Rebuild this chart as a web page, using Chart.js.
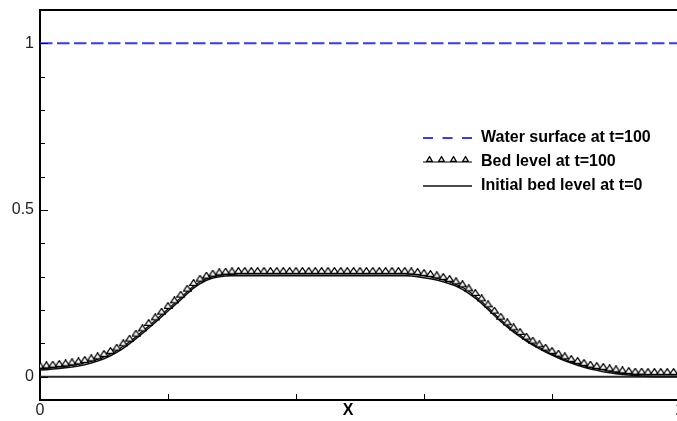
<!DOCTYPE html>
<html>
<head>
<meta charset="utf-8">
<script src="https://cdn.jsdelivr.net/npm/chart.js@4.4.1/dist/chart.umd.min.js"></script>
<style>
  html, body { margin:0; padding:0; background:#fff; overflow:hidden; }
  #wrap { width:720px; height:421px; }
</style>
</head>
<body>
<div id="wrap"><canvas id="bedChart"></canvas></div>
<script>
/* Bed profile over the hump: water surface, bed at t=100 and initial bed */
const xs = [
  0.00,0.02,0.04,0.06,0.08,0.10,0.12,0.14,0.16,0.18,
  0.20,0.22,0.24,0.26,0.28,0.30,0.32,0.34,0.36,0.38,
  0.40,0.42,0.44,0.46,0.48,0.50,0.52,0.54,0.56,0.58,
  0.60,0.62,0.64,0.66,0.68,0.70,0.72,0.74,0.76,0.78,
  0.80,0.82,0.84,0.86,0.88,0.90,0.92,0.94,0.96,0.98,
  1.00,1.02,1.04,1.06,1.08,1.10,1.12,1.14,1.16,1.18,
  1.20,1.22,1.24,1.26,1.28,1.30,1.32,1.34,1.36,1.38,
  1.40,1.42,1.44,1.46,1.48,1.50,1.52,1.54,1.56,1.58,
  1.60,1.62,1.64,1.66,1.68,1.70,1.72,1.74,1.76,1.78,
  1.80,1.82,1.84,1.86,1.88,1.90,1.92,1.94,1.96,1.98,
  2.00
];
const bedT100 = [
  0.024,0.025,0.027,0.029,0.031,0.034,0.037,0.041,0.046,0.052,
  0.059,0.068,0.078,0.091,0.105,0.120,0.136,0.152,0.169,0.186,
  0.203,0.220,0.237,0.255,0.272,0.285,0.294,0.300,0.304,0.306,
  0.307,0.308,0.308,0.308,0.308,0.308,0.308,0.308,0.308,0.308,
  0.308,0.308,0.308,0.308,0.308,0.308,0.308,0.308,0.308,0.308,
  0.308,0.308,0.308,0.308,0.308,0.308,0.308,0.308,0.307,0.305,
  0.302,0.299,0.295,0.290,0.284,0.277,0.268,0.256,0.242,0.226,
  0.208,0.189,0.171,0.154,0.139,0.125,0.111,0.099,0.088,0.078,
  0.068,0.060,0.052,0.044,0.038,0.032,0.027,0.023,0.020,0.016,
  0.013,0.010,0.008,0.006,0.006,0.005,0.005,0.005,0.005,0.005,
  0.005
];
const bedInitial = [
  0.020,0.021,0.023,0.025,0.027,0.029,0.032,0.036,0.041,0.047,
  0.054,0.063,0.073,0.085,0.099,0.114,0.130,0.146,0.163,0.180,
  0.197,0.214,0.231,0.249,0.266,0.279,0.289,0.296,0.300,0.302,
  0.303,0.303,0.303,0.303,0.303,0.303,0.303,0.303,0.303,0.303,
  0.303,0.303,0.303,0.303,0.303,0.303,0.303,0.303,0.303,0.303,
  0.303,0.303,0.303,0.303,0.303,0.303,0.303,0.303,0.302,0.300,
  0.297,0.294,0.290,0.285,0.279,0.272,0.262,0.250,0.236,0.220,
  0.202,0.184,0.166,0.149,0.134,0.120,0.107,0.095,0.084,0.074,
  0.065,0.056,0.048,0.041,0.034,0.028,0.023,0.019,0.015,0.012,
  0.009,0.007,0.005,0.003,0.002,0.001,0.000,0.000,0.000,0.000,
  0.000
];
const waterX = [0, 2];
const waterY = [1, 1];
const floorX = [0, 2];
const floorY = [0, 0];

const xTicks = [0, 0.4, 0.8, 1.2, 1.6, 2];
const xLabelled = [0, 2];
const yTicks = [0, 0.1, 0.2, 0.3, 0.4, 0.5, 0.6, 0.7, 0.8, 0.9, 1, 1.1];
const yLabelled = [0, 0.5, 1];

const FONT = '"Liberation Sans", Arial, sans-serif';

// hollow triangle whose base sits on the point, so the line runs along the bases
function triangleMarker(w, h){
  const c = document.createElement('canvas');
  c.width = w; c.height = h * 2;
  const g = c.getContext('2d');
  g.fillStyle = '#fff'; g.strokeStyle = '#000'; g.lineWidth = 1.3;
  g.beginPath();
  g.moveTo(w / 2, 0.7); g.lineTo(w - 0.6, h - 0.6); g.lineTo(0.6, h - 0.6); g.closePath();
  g.fill(); g.stroke();
  return c;
}
const triMark = triangleMarker(9, 7);
const triSmall = triangleMarker(7, 6);

const pts = (xa, ya)=> xa.map((x, i)=> ({x, y: ya[i]}));

// frame top edge + inward ticks + axis title
const frameTicks = {
  id: 'frameTicks',
  afterDraw(chart){
    const {ctx, chartArea: a, scales: {x, y}} = chart;
    ctx.save();
    ctx.strokeStyle = '#000';
    ctx.lineWidth = 2;
    ctx.beginPath(); ctx.moveTo(a.left - 1, a.top); ctx.lineTo(a.right, a.top); ctx.stroke();
    ctx.lineWidth = 1;
    y.ticks.forEach(t=>{
      const major = yLabelled.includes(t.value);
      const py = Math.round(y.getPixelForValue(t.value)) + 0.5;
      ctx.beginPath(); ctx.moveTo(a.left, py); ctx.lineTo(a.left + (major ? 8 : 5), py); ctx.stroke();
    });
    x.ticks.forEach(t=>{
      const px = Math.round(x.getPixelForValue(t.value)) + 0.5;
      ctx.beginPath(); ctx.moveTo(px, a.bottom); ctx.lineTo(px, a.bottom - 6); ctx.stroke();
    });
    ctx.fillStyle = '#000';
    ctx.font = 'bold 16px ' + FONT;
    ctx.textAlign = 'center'; ctx.textBaseline = 'middle';
    ctx.fillText('X', (a.left + a.right) / 2 - 12, 411);
    ctx.restore();
  }
};

// legend: sample line, optional markers, bold label
const legendRows = {
  id: 'legendRows',
  afterDraw(chart, args, opts){
    const {ctx} = chart;
    ctx.save();
    ctx.font = 'bold 16px ' + FONT;
    ctx.textBaseline = 'middle';
    chart.data.datasets.filter(d=> d.label).forEach((d, i)=>{
      const y = opts.top + i * opts.gap;
      ctx.strokeStyle = d.borderColor;
      ctx.lineWidth = d.borderWidth;
      ctx.setLineDash(d.legendDash || []);
      ctx.beginPath(); ctx.moveTo(opts.left, y); ctx.lineTo(opts.left + opts.sample, y); ctx.stroke();
      ctx.setLineDash([]);
      if(d.legendMark){
        for(let k = 0; k < 4; k++){
          const mx = opts.left + 6 + k * 12;
          ctx.drawImage(d.legendMark, Math.round(mx - d.legendMark.width / 2), Math.round(y - d.legendMark.height / 2));
        }
      }
      ctx.fillStyle = '#000';
      ctx.fillText(d.label, opts.left + opts.sample + 9, y);
    });
    ctx.restore();
  }
};

new Chart(document.getElementById('bedChart'), {
  type: 'line',
  data: {
    datasets: [
      { label:'Water surface at t=100', data: pts(waterX, waterY),
        borderColor:'rgb(55,55,255)', borderWidth:2, borderDash:[12.5,4.5], legendDash:[10,9.5],
        pointRadius:0, order:2 },
      { label:'Bed level at t=100', data: pts(xs, bedT100),
        borderColor:'#000', borderWidth:1.2, pointStyle: triMark, pointRadius:3,
        legendMark: triSmall, order:0 },
      { label:'Initial bed level at t=0', data: pts(xs, bedInitial),
        borderColor:'#111', borderWidth:1.6, pointRadius:0, order:1 },
      { data: pts(floorX, floorY), borderColor:'#2a2a2a', borderWidth:2, pointRadius:0, order:3 }
    ]
  },
  options: {
    responsive: true,
    maintainAspectRatio: false,
    animation: false,
    layout: { padding: { top:10, right:40, left:0, bottom:0 } },
    plugins: {
      legend: { display:false },
      tooltip: { enabled:false },
      legendRows: { left:423, top:138, gap:24, sample:49 }
    },
    scales: {
      x: {
        type:'linear', min:0, max:2,
        afterBuildTicks: (ax)=> { ax.ticks = xTicks.map(v=> ({value:v})); },
        afterFit: (ax)=> { ax.height = 21; ax.paddingLeft = 0; ax.paddingRight = 0; },
        grid: { display:false, drawTicks:false },
        border: { display:true, color:'#000', width:2 },
        ticks: { autoSkip:false, maxRotation:0, padding:1, color:'#222',
          font:{ family:FONT, size:16 },
          callback: (v)=> xLabelled.includes(v) ? String(v) : '' }
      },
      y: {
        type:'linear', min:-0.07, max:1.1,
        afterBuildTicks: (ax)=> { ax.ticks = yTicks.map(v=> ({value:v})); },
        afterFit: (ax)=> { ax.width = 40; ax.paddingTop = 0; ax.paddingBottom = 0; },
        grid: { display:false, drawTicks:false },
        border: { display:true, color:'#000', width:2 },
        ticks: { autoSkip:false, padding:6, color:'#222',
          font:{ family:FONT, size:16 },
          callback: (v)=> yLabelled.includes(v) ? String(v) : '' }
      }
    }
  },
  plugins: [frameTicks, legendRows]
});
</script>
</body>
</html>
